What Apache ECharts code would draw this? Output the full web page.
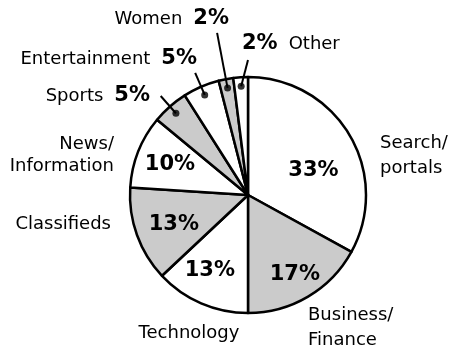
<!DOCTYPE html>
<html>
<head>
<meta charset="utf-8">
<script src="https://cdn.jsdelivr.net/npm/echarts@6/dist/echarts.min.js"></script>
<style>
  html, body { margin: 0; padding: 0; background: #ffffff; }
  #chart { width: 451px; height: 352px; }
</style>
</head>
<body>
<div id="chart"></div>
<script>
// Share by site category, clockwise from 12 o'clock
const categories = ['Search/\nportals', 'Business/\nFinance', 'Technology', 'Classifieds',
  'News/\nInformation', 'Sports', 'Entertainment', 'Women', 'Other'];
const shares = [33, 17, 13, 13, 10, 5, 5, 2, 2];

// ---- layout & style ----
const CX = 248, CY = 195, R = 118;
const FONT = '"DejaVu Sans", Verdana, sans-serif';
const GREY = '#cbcbcb';
const fills = shares.map((_, i) => (i % 2 ? GREY : '#ffffff'));

// slices whose percentage sits inside the wedge: radius of the label and a small turn (in % of a circle)
const insideLabelRadius = [70, 92, 85, 80, 84];
const insideLabelTurn = [2.7, 0, 0.9, -0.6, 0];

// category name placement
const nameAnchor = [
  { x: 380, y: 156, align: 'left', lineHeight: 25 },
  { x: 308, y: 328, align: 'left', lineHeight: 25 },
  { x: 189, y: 333, align: 'center' },
  { x: 111, y: 224, align: 'right' },
  { x: 114, y: 155, align: 'right', lineHeight: 22 },
  { x: 150, y: 96, align: 'right' },
  { x: 197, y: 59, align: 'right' },
  { x: 229, y: 19, align: 'right' },
  { x: 242, y: 44, align: 'left', pctFirst: true }
];

// callouts for the thin slices: dot radius, leader end radius, optional leader end angle (% of circle)
const firstCallout = insideLabelRadius.length;
const DOT_R = 109;
const leaderEnd = [
  { r: 132 }, { r: 133 }, { r: 165 }, { r: 135, at: 100 }
];

// cumulative position of each slice's middle, in % of the full circle
const total = shares.reduce((a, b) => a + b, 0);
const midPct = [];
shares.reduce((acc, v) => { midPct.push((acc + v / 2) / total * 100); return acc + v; }, 0);

function polarPoint(r, pct) {
  const a = pct / 100 * 2 * Math.PI;
  return [CX + r * Math.sin(a), CY - r * Math.cos(a)];
}

const chart = echarts.init(document.getElementById('chart'), null, { renderer: 'canvas' });

const calloutIdx = shares.map((_, i) => i).filter(i => i >= firstCallout);

const leaderSeries = calloutIdx.map((i, k) => ({
  type: 'line',
  coordinateSystem: 'polar',
  polarIndex: 0,
  clip: false,
  silent: true,
  symbol: 'none',
  lineStyle: { color: '#000', width: 2 },
  z: 5,
  data: [
    [DOT_R, midPct[i]],
    [leaderEnd[k].r, leaderEnd[k].at != null ? leaderEnd[k].at : midPct[i]]
  ]
}));

const option = {
  animation: false,
  backgroundColor: '#ffffff',
  polar: { center: [CX, CY], radius: 170 },
  angleAxis: { type: 'value', min: 0, max: 100, startAngle: 90, clockwise: true, show: false },
  radiusAxis: { type: 'value', min: 0, max: 170, show: false },
  series: [
    {
      // the wedges, with percentages inside the larger ones
      type: 'pie',
      center: [CX, CY],
      radius: [0, R],
      startAngle: 90,
      clockwise: true,
      avoidLabelOverlap: false,
      silent: true,
      emphasis: { disabled: true },
      itemStyle: { borderColor: '#000', borderWidth: 2.5 },
      labelLine: { show: false },
      label: {
        position: 'inside',
        formatter: '{c}%',
        fontFamily: FONT,
        fontWeight: 'bold',
        fontSize: 21,
        color: '#000'
      },
      labelLayout: (p) => {
        const i = p.dataIndex;
        if (i >= insideLabelRadius.length) return {};
        const [x, y] = polarPoint(insideLabelRadius[i], midPct[i] + insideLabelTurn[i]);
        return { x, y, align: 'center', verticalAlign: 'middle' };
      },
      data: shares.map((v, i) => ({
        value: v,
        name: categories[i],
        itemStyle: { color: fills[i] },
        label: { show: i < insideLabelRadius.length }
      }))
    },
    {
      // category names around the pie
      type: 'pie',
      center: [CX, CY],
      radius: [0, R],
      startAngle: 90,
      clockwise: true,
      avoidLabelOverlap: false,
      silent: true,
      emphasis: { disabled: true },
      z: 6,
      itemStyle: { color: 'rgba(0,0,0,0)', borderWidth: 0 },
      labelLine: { show: false },
      label: {
        position: 'outside',
        fontFamily: FONT,
        fontSize: 18,
        color: '#000',
        formatter: (p) => {
          const i = p.dataIndex;
          if (i < firstCallout) return categories[i];
          const pct = shares[i] + '%';
          return nameAnchor[i].pctFirst
            ? '{bl|' + pct + '}{n|' + categories[i] + '}'
            : '{n|' + categories[i] + '}{br|' + pct + '}';
        },
        rich: {
          n: { fontFamily: FONT, fontSize: 18, color: '#000' },
          br: { fontFamily: FONT, fontSize: 21, fontWeight: 'bold', color: '#000', padding: [0, 0, 0, 11] },
          bl: { fontFamily: FONT, fontSize: 21, fontWeight: 'bold', color: '#000', padding: [0, 11, 0, 0] }
        }
      },
      labelLayout: (p) => {
        const a = nameAnchor[p.dataIndex];
        return { x: a.x, y: a.y, align: a.align, verticalAlign: 'middle' };
      },
      data: shares.map((v, i) => ({
        value: v,
        name: categories[i],
        label: nameAnchor[i].lineHeight ? { lineHeight: nameAnchor[i].lineHeight } : {}
      }))
    },
    ...leaderSeries,
    {
      // dots marking the thin slices
      type: 'scatter',
      coordinateSystem: 'polar',
      polarIndex: 0,
      clip: false,
      silent: true,
      symbol: 'circle',
      symbolSize: 7,
      itemStyle: { color: '#000' },
      z: 6,
      data: calloutIdx.map(i => [DOT_R, midPct[i]])
    }
  ]
};

chart.setOption(option);
</script>
</body>
</html>
